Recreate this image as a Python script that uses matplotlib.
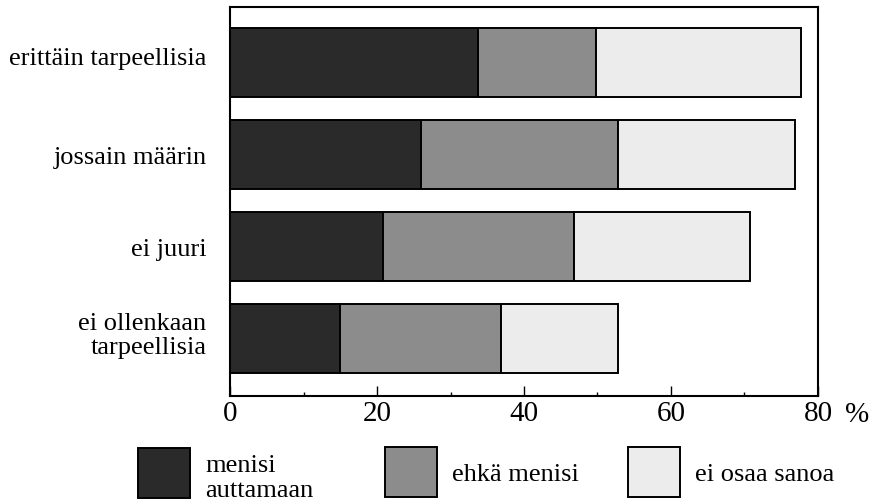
import numpy as np
import matplotlib
matplotlib.use("Agg")
import matplotlib.pyplot as plt
from matplotlib.patches import Patch, Rectangle
from matplotlib.legend_handler import HandlerPatch
from matplotlib.ticker import MultipleLocator
from matplotlib.transforms import ScaledTranslation

plt.rcParams['font.family'] = ['Liberation Serif', 'DejaVu Serif']

categories = ["erittäin tarpeellisia", "jossain määrin", "ei juuri",
              "ei ollenkaan\ntarpeellisia"]
series_names = ["menisi\nauttamaan", "ehkä menisi", "ei osaa sanoa"]
menisi = [33.7, 26.0, 20.8, 15.0]
ehka = [16.1, 26.8, 26.0, 21.9]
ei_osaa = [27.9, 24.1, 23.9, 15.9]
xticks = [0, 20, 40, 60, 80]

colors = ['#2a2a2a', '#8c8c8c', '#ececec']


def raised_box(legend, orig_handle, xdescent, ydescent, width, height, fontsize):
    # two-line label: box sits lower relative to the text
    return Rectangle((-xdescent, -ydescent + 3.6), width, height)


def main():
    fig = plt.figure(figsize=(8.7, 5.02), dpi=100)
    ax = fig.add_axes([0.2644, 0.2092, 0.6758, 0.7748])

    y = np.arange(len(categories))
    left = np.zeros(len(categories))
    for vals, c in zip([menisi, ehka, ei_osaa], colors):
        ax.barh(y, vals, left=left, height=0.75, color=c,
                edgecolor='black', linewidth=1.4)
        left += np.array(vals)

    ax.set_xlim(0, 80)
    ax.set_ylim(3.625, -0.6)
    ax.set_yticks(y)
    ax.set_yticklabels(categories, fontsize=19, linespacing=1.1)
    ax.tick_params(axis='y', length=0, pad=17)
    # first and last labels sit a little above their bars in the original
    for i in (0, 3):
        lab = ax.get_yticklabels()[i]
        lab.set_transform(lab.get_transform() +
                          ScaledTranslation(0, 5 / 72, fig.dpi_scale_trans))

    ax.set_xticks(xticks)
    ax.xaxis.set_minor_locator(MultipleLocator(10))
    ax.tick_params(axis='x', which='major', direction='in', length=7,
                   width=1, labelsize=21, pad=3)
    ax.tick_params(axis='x', which='minor', direction='in', length=3, width=1)
    for s in ax.spines.values():
        s.set_linewidth(1.5)

    ax.text(1.066, -0.012, '%', transform=ax.transAxes, fontsize=21,
            ha='center', va='top')

    # legend: one entry per block so each swatch lands where it should
    anchors = [(0.1586, -0.004), (0.4425, 0.008), (0.7218, 0.008)]
    for i, (name, c) in enumerate(zip(series_names, colors)):
        h = Patch(facecolor=c, edgecolor='black', linewidth=1.4)
        hmap = {h: HandlerPatch(patch_func=raised_box)} if i == 0 else None
        leg = fig.legend([h], [name], loc='lower left', bbox_to_anchor=anchors[i],
                         frameon=False, fontsize=19, handlelength=1.97,
                         handleheight=2.54, handletextpad=0.57,
                         borderpad=0, borderaxespad=0, handler_map=hmap)
        leg.get_texts()[0].set_linespacing(1.15)

    fig.savefig('out.png', dpi=100)


if __name__ == "__main__":
    main()
